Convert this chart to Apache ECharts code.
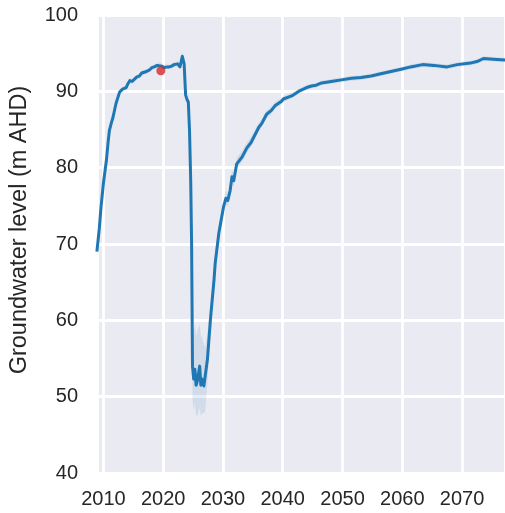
<!DOCTYPE html>
<html>
<head>
<meta charset="utf-8">
<script src="https://cdn.jsdelivr.net/npm/echarts@6/dist/echarts.min.js"></script>
<style>
  html, body { margin: 0; padding: 0; background: #ffffff; }
  #chart { width: 505px; height: 513px; }
</style>
</head>
<body>
<div id="chart"></div>
<script>
// Simulated groundwater level (m AHD), ensemble mean by decimal year
const years = [
  2008.9, 2009.3, 2009.6, 2010.0, 2010.5, 2010.8, 2011.0, 2011.3, 2011.6, 2012.1,
  2012.7, 2013.2, 2013.8, 2014.1, 2014.4, 2014.8, 2015.2, 2015.6, 2016.0, 2016.4,
  2016.8, 2017.2, 2017.7, 2018.1, 2018.5, 2019.0, 2019.3, 2019.8, 2020.2, 2020.6,
  2021.0, 2021.4, 2021.8, 2022.4, 2022.8, 2023.0, 2023.2, 2023.5, 2023.75, 2024.0,
  2024.2, 2024.4, 2024.6, 2024.75, 2024.9, 2025.1, 2025.3, 2025.5, 2025.7, 2026.1,
  2026.3, 2026.5, 2026.8, 2027.0, 2027.4, 2027.9, 2028.5, 2028.7, 2029.3, 2029.6,
  2030.1, 2030.5, 2030.8, 2031.2, 2031.5, 2031.8, 2032.3, 2033.2, 2034.0, 2034.7,
  2036.0, 2036.5, 2037.3, 2038.1, 2038.7, 2039.8, 2040.1, 2041.5, 2042.9, 2044.0,
  2044.8, 2045.6, 2046.5, 2048.1, 2049.8, 2051.5, 2053.1, 2054.8, 2056.4, 2058.1,
  2059.8, 2061.4, 2063.4, 2065.3, 2067.5, 2069.2, 2071.4, 2072.5, 2073.6, 2075.2,
  2077.2
];
const levels = [
  69.0, 72.0, 74.9, 78.0, 81.0, 83.5, 84.9, 85.8, 86.6, 88.4,
  89.9, 90.3, 90.5, 91.0, 91.4, 91.3, 91.6, 91.9, 92.0, 92.4,
  92.5, 92.6, 92.8, 93.1, 93.2, 93.4, 93.5, 93.3, 93.1, 93.2,
  93.2, 93.3, 93.5, 93.6, 93.2, 93.9, 94.6, 93.6, 89.5, 88.9,
  88.6, 84.9, 78.3, 70.0, 54.0, 52.3, 53.6, 51.5, 52.0, 54.0,
  51.5, 52.3, 51.4, 51.4, 54.9, 60.1, 65.3, 67.5, 71.4, 72.7,
  74.9, 76.0, 75.7, 77.0, 78.8, 78.3, 80.5, 81.4, 82.6, 83.3,
  85.3, 85.8, 87.0, 87.5, 88.1, 88.7, 89.0, 89.4, 90.1, 90.5,
  90.7, 90.8, 91.1, 91.3, 91.5, 91.7, 91.8, 92.0, 92.3, 92.6,
  92.9, 93.2, 93.5, 93.4, 93.2, 93.5, 93.7, 93.9, 94.3, 94.2,
  94.1
];
// Ensemble spread below / above the mean (m)
const spreadBelow = [
  0.6, 0.5, 0.5, 0.5, 0.5, 0.4, 0.4, 0.4, 0.4, 0.4,
  0.3, 0.3, 0.3, 0.3, 0.3, 0.3, 0.3, 0.3, 0.3, 0.3,
  0.3, 0.3, 0.3, 0.3, 0.3, 0.3, 0.3, 0.3, 0.3, 0.3,
  0.3, 0.3, 0.3, 0.3, 0.3, 0.3, 0.3, 0.3, 0.6, 0.6,
  0.6, 0.8, 1.0, 1.5, 4.5, 4.0, 4.5, 4.0, 4.5, 5.5,
  4.0, 4.5, 3.5, 3.5, 3.0, 1.5, 1.2, 1.0, 1.0, 1.0,
  0.8, 0.8, 0.8, 0.8, 0.8, 0.8, 0.6, 0.6, 0.6, 0.6,
  0.5, 0.5, 0.5, 0.5, 0.4, 0.4, 0.4, 0.3, 0.3, 0.3,
  0.3, 0.3, 0.3, 0.3, 0.3, 0.3, 0.3, 0.3, 0.3, 0.3,
  0.3, 0.3, 0.3, 0.3, 0.3, 0.3, 0.3, 0.3, 0.3, 0.3,
  0.3
];
const spreadAbove = [
  0.6, 0.5, 0.5, 0.5, 0.5, 0.4, 0.4, 0.4, 0.4, 0.4,
  0.3, 0.3, 0.3, 0.3, 0.3, 0.3, 0.3, 0.3, 0.3, 0.3,
  0.3, 0.3, 0.3, 0.3, 0.3, 0.3, 0.3, 0.3, 0.3, 0.3,
  0.3, 0.3, 0.3, 0.3, 0.3, 0.3, 0.5, 0.3, 0.6, 0.6,
  0.6, 0.8, 1.0, 1.5, 4.0, 6.0, 6.0, 6.5, 6.5, 5.5,
  6.5, 5.5, 5.5, 5.0, 3.5, 2.0, 1.5, 1.2, 1.0, 1.0,
  1.0, 1.0, 1.0, 1.0, 0.9, 0.9, 0.8, 0.8, 0.7, 0.7,
  0.6, 0.6, 0.5, 0.5, 0.5, 0.4, 0.4, 0.4, 0.3, 0.3,
  0.3, 0.3, 0.3, 0.3, 0.3, 0.3, 0.3, 0.3, 0.3, 0.3,
  0.3, 0.3, 0.3, 0.3, 0.3, 0.3, 0.3, 0.3, 0.3, 0.3,
  0.3
];
// Single observed level
const observed = [[2019.6, 92.7]];

const yTicks = [40, 50, 60, 70, 80, 90, 100];

const meanData = years.map((y, i) => [y, levels[i]]);
const bandLower = years.map((y, i) => [y, levels[i] - spreadBelow[i]]);
const bandUpper = years.map((y, i) => [y, levels[i] + spreadAbove[i]]);

const FONT = "'Liberation Sans', Arial, Helvetica, sans-serif";
const TEXT = '#262626';

// Uncertainty envelope drawn as one polygon through the axis scales
function renderBand(params, api) {
  const upper = bandUpper.map(p => api.coord(p));
  const lower = bandLower.slice().reverse().map(p => api.coord(p));
  return {
    type: 'polygon',
    shape: { points: upper.concat(lower) },
    style: { fill: 'rgba(31,119,180,0.12)', stroke: 'none' },
    silent: true
  };
}

const chart = echarts.init(document.getElementById('chart'), null, { renderer: 'canvas' });
chart.setOption({
  animation: false,
  backgroundColor: '#ffffff',
  grid: {
    left: 94, right: 0, top: 15, bottom: 40,
    show: true, backgroundColor: '#EAEAF2', borderWidth: 0
  },
  xAxis: {
    type: 'value',
    min: 2008.92,
    max: 2077.19,
    splitNumber: 7,
    axisLine: { show: false },
    axisTick: { show: false },
    axisLabel: {
      color: TEXT, fontFamily: FONT, fontSize: 20, margin: 16,
      showMinLabel: false, showMaxLabel: false,
      formatter: v => (Math.abs(v % 10) < 1e-6 ? String(Math.round(v)) : '')
    },
    splitLine: { show: true, lineStyle: { color: '#ffffff', width: 2.8 } }
  },
  yAxis: {
    type: 'value',
    min: yTicks[0],
    max: yTicks[yTicks.length - 1],
    interval: 10,
    name: 'Groundwater level (m AHD)',
    nameLocation: 'middle',
    nameGap: 65,
    nameTextStyle: { color: TEXT, fontFamily: FONT, fontSize: 23.5, padding: [0, 0, 0, 28] },
    axisLine: { show: false },
    axisTick: { show: false },
    axisLabel: { color: TEXT, fontFamily: FONT, fontSize: 20, margin: 19 },
    splitLine: { show: true, lineStyle: { color: '#ffffff', width: 2.8 } }
  },
  series: [
    {
      type: 'custom', data: [[years[0], levels[0]]],
      renderItem: renderBand, clip: true, silent: true, z: 1
    },
    {
      type: 'line', data: meanData, symbol: 'none', z: 2,
      lineStyle: { color: '#1f77b4', width: 3, join: 'round' }
    },
    {
      type: 'scatter', data: observed, symbolSize: 9, z: 3,
      itemStyle: { color: '#d62728' }
    }
  ]
});
</script>
</body>
</html>
